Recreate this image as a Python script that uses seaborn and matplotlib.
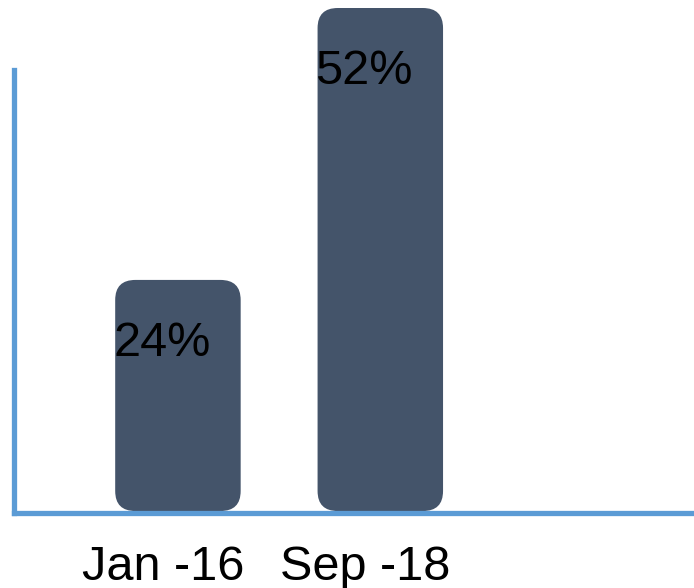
import pandas as pd
import matplotlib
matplotlib.use("Agg")
from matplotlib import pyplot as plt
from matplotlib.patches import FancyBboxPatch
import matplotlib.transforms as mtrans
import seaborn as sns

sns.set_style("white")
plt.rcParams['font.family'] = ['Liberation Sans', 'DejaVu Sans']

# data
periods = ["Jan -16", "Sep -18"]
shares = [24, 52]
labels = ["24%", "52%"]

df = pd.DataFrame({"Okres": periods, "Udzial": shares})

bar_color = "#44546A"
axis_color = "#5B9BD5"

fig = plt.figure(figsize=(6.94, 5.88), dpi=100)
ax = fig.add_axes([14/694, 75/588, 680/694, 505/588])
sns.barplot(x="Okres", y="Udzial", data=df, color=bar_color, width=0.62,
            saturation=1, ax=ax)
ax.set_xlim(-0.81, 2.55)
ax.set_ylim(0, 52)

# rounded bars instead of the plain rectangles
aspect = 20.6
for p in list(ax.patches):
    x, w, h = p.get_x(), p.get_width(), p.get_height()
    box = FancyBboxPatch((x, 0.2), w, h - 0.2,
                         boxstyle="round,pad=0,rounding_size=0.1",
                         mutation_aspect=aspect, facecolor=bar_color,
                         edgecolor="none", clip_on=False, zorder=2)
    ax.add_patch(box)
    p.remove()

# value labels
for i, lab in enumerate(labels):
    ax.text(i - 0.08, shares[i] - 6.5, lab, ha="center", va="center",
            fontsize=35, color="black", zorder=3)

ax.set_xticks(range(len(periods)))
ax.set_xticklabels(periods, fontsize=35, color="black")
ax.tick_params(axis="x", length=0, pad=23)
ax.set_yticks([])
ax.set_xlabel("")
ax.set_ylabel("")

for s in ["top", "right"]:
    ax.spines[s].set_visible(False)
ax.spines["left"].set_color(axis_color)
ax.spines["left"].set_linewidth(3.8)
ax.spines["left"].set_bounds(0, 45.6)
ax.spines["bottom"].set_color(axis_color)
ax.spines["bottom"].set_linewidth(3.8)
ax.spines["bottom"].set_zorder(4)

# shift tick labels slightly left like the original
offset = mtrans.ScaledTranslation(-15/100, 0, fig.dpi_scale_trans)
for t in ax.get_xticklabels():
    t.set_transform(t.get_transform() + offset)

fig.savefig("out.png", dpi=100)
